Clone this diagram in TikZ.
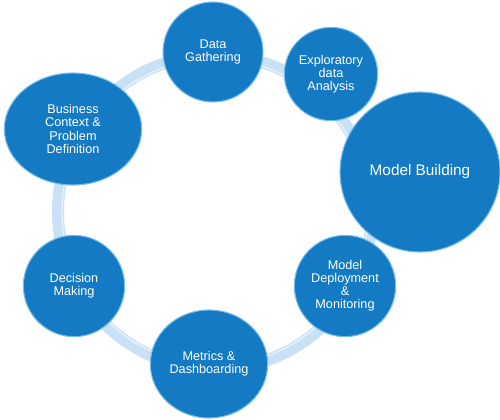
\documentclass[tikz,border=0pt]{standalone}
\usepackage{fontspec}
\setmainfont{Liberation Sans}
\usetikzlibrary{shapes.geometric}
\definecolor{stageblue}{RGB}{20,122,196}
\definecolor{rimblue}{RGB}{120,190,235}
\definecolor{ringblue}{RGB}{200,225,246}
\tikzset{
  stage/.style={circle,fill=stageblue,draw=rimblue,line width=0.8pt,text=white,
    align=center,inner sep=0pt,font=\fontsize{9.5}{9.8}\selectfont},
  oval/.style={stage,ellipse},
  ring/.style={draw=ringblue,line width=9pt},
  glint/.style={draw=white,opacity=0.7,line width=0.8pt}
}
\begin{document}
\begin{tikzpicture}[x=0.75pt,y=-0.75pt]
\useasboundingbox (0,0) rectangle (500,420);
\coordinate (hub) at (215,212);
\draw[ring] (hub) circle [radius=157];
\draw[glint] (hub) circle [radius=153];
\node[stage,minimum size=75pt] (gather) at (213,52) {Data\\Gathering};
\node[stage,minimum size=70pt] (explore) at (331,74) {Exploratory\\data\\Analysis};
\node[stage,minimum size=120pt,font=\fontsize{11.5}{12}\selectfont] (build) at (420,172) {Model Building};
\node[oval,minimum width=103pt,minimum height=84pt] (business) at (73,129) {Business\\Context \&\\Problem\\Definition};
\node[stage,minimum size=76pt] (decide) at (74,286) {Decision\\Making};
\node[oval,minimum width=88pt,minimum height=81pt] (metrics) at (209,364) {Metrics \&\\Dashboarding};
\node[stage,minimum size=76pt] (deploy) at (345,286) {Model\\Deployment\\\&\\Monitoring};
\end{tikzpicture}
\end{document}
